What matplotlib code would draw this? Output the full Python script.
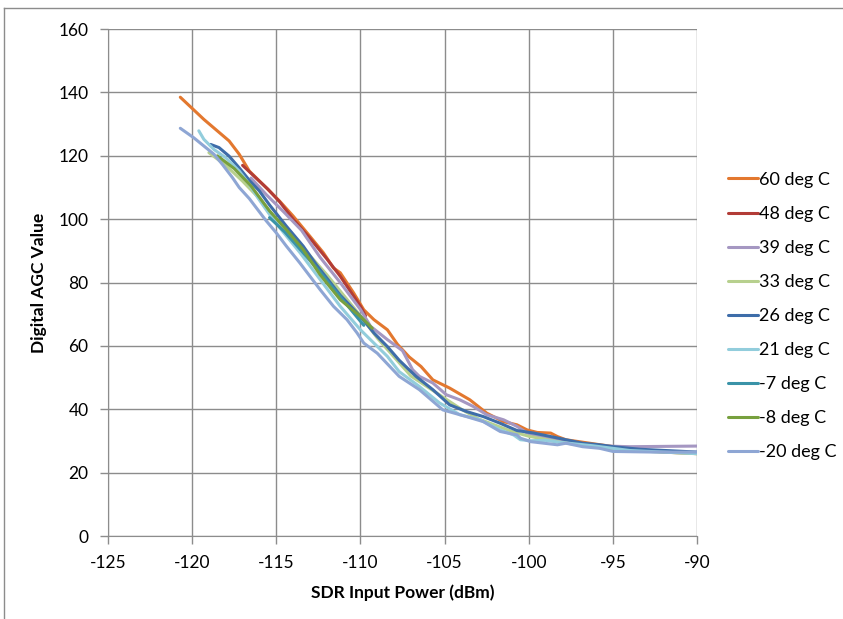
import matplotlib
matplotlib.use("Agg")
import matplotlib.pyplot as plt
from matplotlib.lines import Line2D

plt.rcParams['font.family'] = ['Lato', 'DejaVu Sans']
plt.rcParams['axes.unicode_minus'] = False

# series
x_60 = [-120.7, -119.3, -117.8, -117.2, -116.6, -115.4, -114.8, -114.0, -113.0, -112.2, -111.6, -111.2,
        -110.4, -109.8, -109.2, -108.4, -107.8, -107.1, -106.4, -105.7, -104.7, -103.5, -102.5, -101.5,
        -100.7, -100.1, -99.5, -98.7, -98.3, -97.8, -96.0, -94.0, -92.0, -90.0]
y_60 = [138.5, 131.5, 124.7, 120.5, 115.2, 108.9, 105.7, 101.0, 94.6, 89.4, 84.6, 83.1,
        76.7, 71.4, 68.3, 65.1, 60.5, 56.5, 53.5, 49.3, 46.7, 43.0, 38.8, 36.1,
        35.1, 33.5, 32.7, 32.5, 31.4, 30.4, 29.0, 27.5, 26.5, 26.0]

x_48 = [-117.0, -116.5, -115.5, -114.8, -114.0, -113.0, -112.0, -111.2, -110.4, -110.0, -109.7]
y_48 = [117.0, 114.5, 109.5, 105.5, 100.0, 94.0, 87.5, 82.0, 75.7, 72.5, 69.5]

x_39 = [-116.5, -115.6, -114.5, -113.5, -112.4, -111.2, -110.0, -109.4, -108.4, -107.5, -106.9, -106.5,
        -105.7, -104.9, -104.1, -103.3, -102.5, -101.5, -100.7, -100.1, -99.0, -97.5, -96.0, -94.0,
        -92.0, -90.0]
y_39 = [113.0, 107.8, 102.0, 96.5, 88.0, 80.0, 71.5, 66.2, 62.0, 58.5, 52.5, 50.4,
        48.3, 44.6, 43.0, 40.9, 38.3, 36.7, 34.6, 32.5, 31.0, 29.5, 28.5, 28.2,
        28.3, 28.4]

x_33 = [-119.0, -118.0, -117.0, -116.0, -115.0, -114.0, -113.0, -112.0, -111.0, -110.0, -109.0, -108.0,
        -107.0, -106.0, -105.0, -104.0, -103.0, -102.0, -101.0, -100.0, -98.0, -96.0, -94.0, -92.0, -90.0]
y_33 = [121.0, 117.0, 112.0, 106.5, 100.0, 94.5, 88.5, 82.5, 76.0, 69.5, 62.5, 56.5,
        50.5, 47.0, 43.5, 40.0, 37.0, 35.0, 33.0, 31.5, 29.5, 28.0, 27.0, 26.5, 26.0]

x_26 = [-118.9, -118.4, -117.8, -117.2, -116.6, -116.0, -115.4, -114.4, -113.4, -112.6, -111.2, -110.0,
        -109.2, -108.4, -107.7, -106.7, -105.7, -104.7, -103.7, -102.7, -101.7, -100.7, -99.7, -98.7,
        -97.8, -96.8, -95.8, -95.0, -93.4, -90.0]
y_26 = [123.6, 122.6, 119.9, 116.2, 112.3, 108.9, 104.5, 97.8, 91.5, 85.5, 76.0, 69.3,
        64.1, 59.8, 55.5, 50.4, 46.2, 41.4, 39.3, 37.7, 35.6, 33.3, 32.5, 31.4,
        30.4, 29.3, 28.8, 28.2, 27.4, 26.5]

x_21 = [-119.6, -119.3, -118.7, -118.0, -117.2, -116.6, -116.1, -115.4, -114.6, -113.6, -112.4, -111.2,
        -110.0, -109.2, -108.4, -107.7, -106.5, -105.3, -104.1, -102.9, -101.7, -100.9, -100.5, -99.9,
        -99.0, -98.0, -96.2, -94.0, -92.0, -90.0]
y_21 = [127.9, 125.2, 122.0, 119.4, 115.2, 111.0, 106.8, 101.5, 96.0, 89.5, 81.0, 72.5,
        65.1, 60.9, 56.7, 51.9, 47.2, 42.0, 38.3, 36.7, 33.5, 31.9, 30.4, 30.1,
        30.2, 29.5, 28.5, 27.0, 26.5, 26.0]

x_m7 = [-115.4, -114.5, -113.5, -112.5, -111.5, -110.5, -109.8]
y_m7 = [100.5, 96.0, 90.0, 84.0, 77.5, 71.0, 66.5]

x_m8 = [-118.5, -117.5, -116.5, -115.4, -114.4, -113.4, -112.4, -111.2, -110.0, -109.3]
y_m8 = [120.0, 116.0, 110.5, 102.6, 96.7, 90.4, 82.5, 74.6, 69.3, 65.6]

x_m20 = [-120.7, -119.9, -119.3, -118.7, -118.2, -117.6, -117.2, -116.6, -115.6, -115.0, -114.4, -113.6,
         -112.4, -111.6, -110.8, -110.2, -109.8, -109.0, -107.7, -106.5, -105.1, -103.7, -102.7, -101.7,
         -100.7, -100.5, -99.9, -99.1, -98.3, -97.8, -96.8, -95.8, -95.0, -92.5, -90.0]
y_m20 = [128.7, 125.7, 123.1, 120.5, 117.3, 113.1, 110.0, 106.5, 99.5, 95.7, 91.5, 86.2,
         77.8, 72.5, 68.3, 64.1, 60.9, 57.7, 50.4, 46.2, 39.8, 37.7, 36.1, 33.0,
         31.9, 30.9, 29.8, 29.3, 28.8, 29.3, 28.2, 27.7, 26.7, 26.5, 26.5]

labels = ["60 deg C", "48 deg C", "39 deg C", "33 deg C", "26 deg C",
          "21 deg C", "-7 deg C", "-8 deg C", "-20 deg C"]
xs = [x_60, x_48, x_39, x_33, x_26, x_21, x_m7, x_m8, x_m20]
ys = [y_60, y_48, y_39, y_33, y_26, y_21, y_m7, y_m8, y_m20]
colors = ["#E3782F", "#B23C37", "#A597C2", "#B7D08E", "#3E6DA9",
          "#92CDDC", "#3A93A8", "#77A03E", "#8EA6D4"]

fig = plt.figure(figsize=(8.43, 6.19), dpi=100)
ax = fig.add_axes([0.128, 0.134, 0.699, 0.819])

for x, y, c, lab in zip(xs, ys, colors, labels):
    ax.plot(x, y, color=c, lw=2.2, label=lab, solid_joinstyle='round', solid_capstyle='round')

ax.set_xlim(-125, -90)
ax.set_ylim(0, 160)
ax.set_xticks(range(-125, -89, 5))
ax.set_yticks(range(0, 161, 20))
ax.grid(True, color="#8c8c8c", lw=1)
ax.set_axisbelow(True)
for s in ["top", "right"]:
    ax.spines[s].set_visible(False)
for s in ["left", "bottom"]:
    ax.spines[s].set_color("#8c8c8c")
ax.tick_params(colors="#8c8c8c", labelcolor="black", labelsize=12.5, length=6, width=1, pad=8)
ax.set_xlabel("SDR Input Power (dBm)", fontsize=12.5, fontweight="bold", labelpad=9)
ax.set_ylabel("Digital AGC Value", fontsize=12.5, fontweight="bold", labelpad=8)

ax.legend(loc="center left", bbox_to_anchor=(1.025, 0.434), frameon=False, fontsize=13,
          handlelength=1.65, handletextpad=0.08, labelspacing=1.0, borderaxespad=0.5)

# chart area border
fig.add_artist(Line2D([0.005, 1.0], [0.987, 0.987], color="#8c8c8c", lw=1))
fig.add_artist(Line2D([0.005, 0.005], [0.0, 0.987], color="#8c8c8c", lw=1))

fig.savefig("out.png", dpi=100)
